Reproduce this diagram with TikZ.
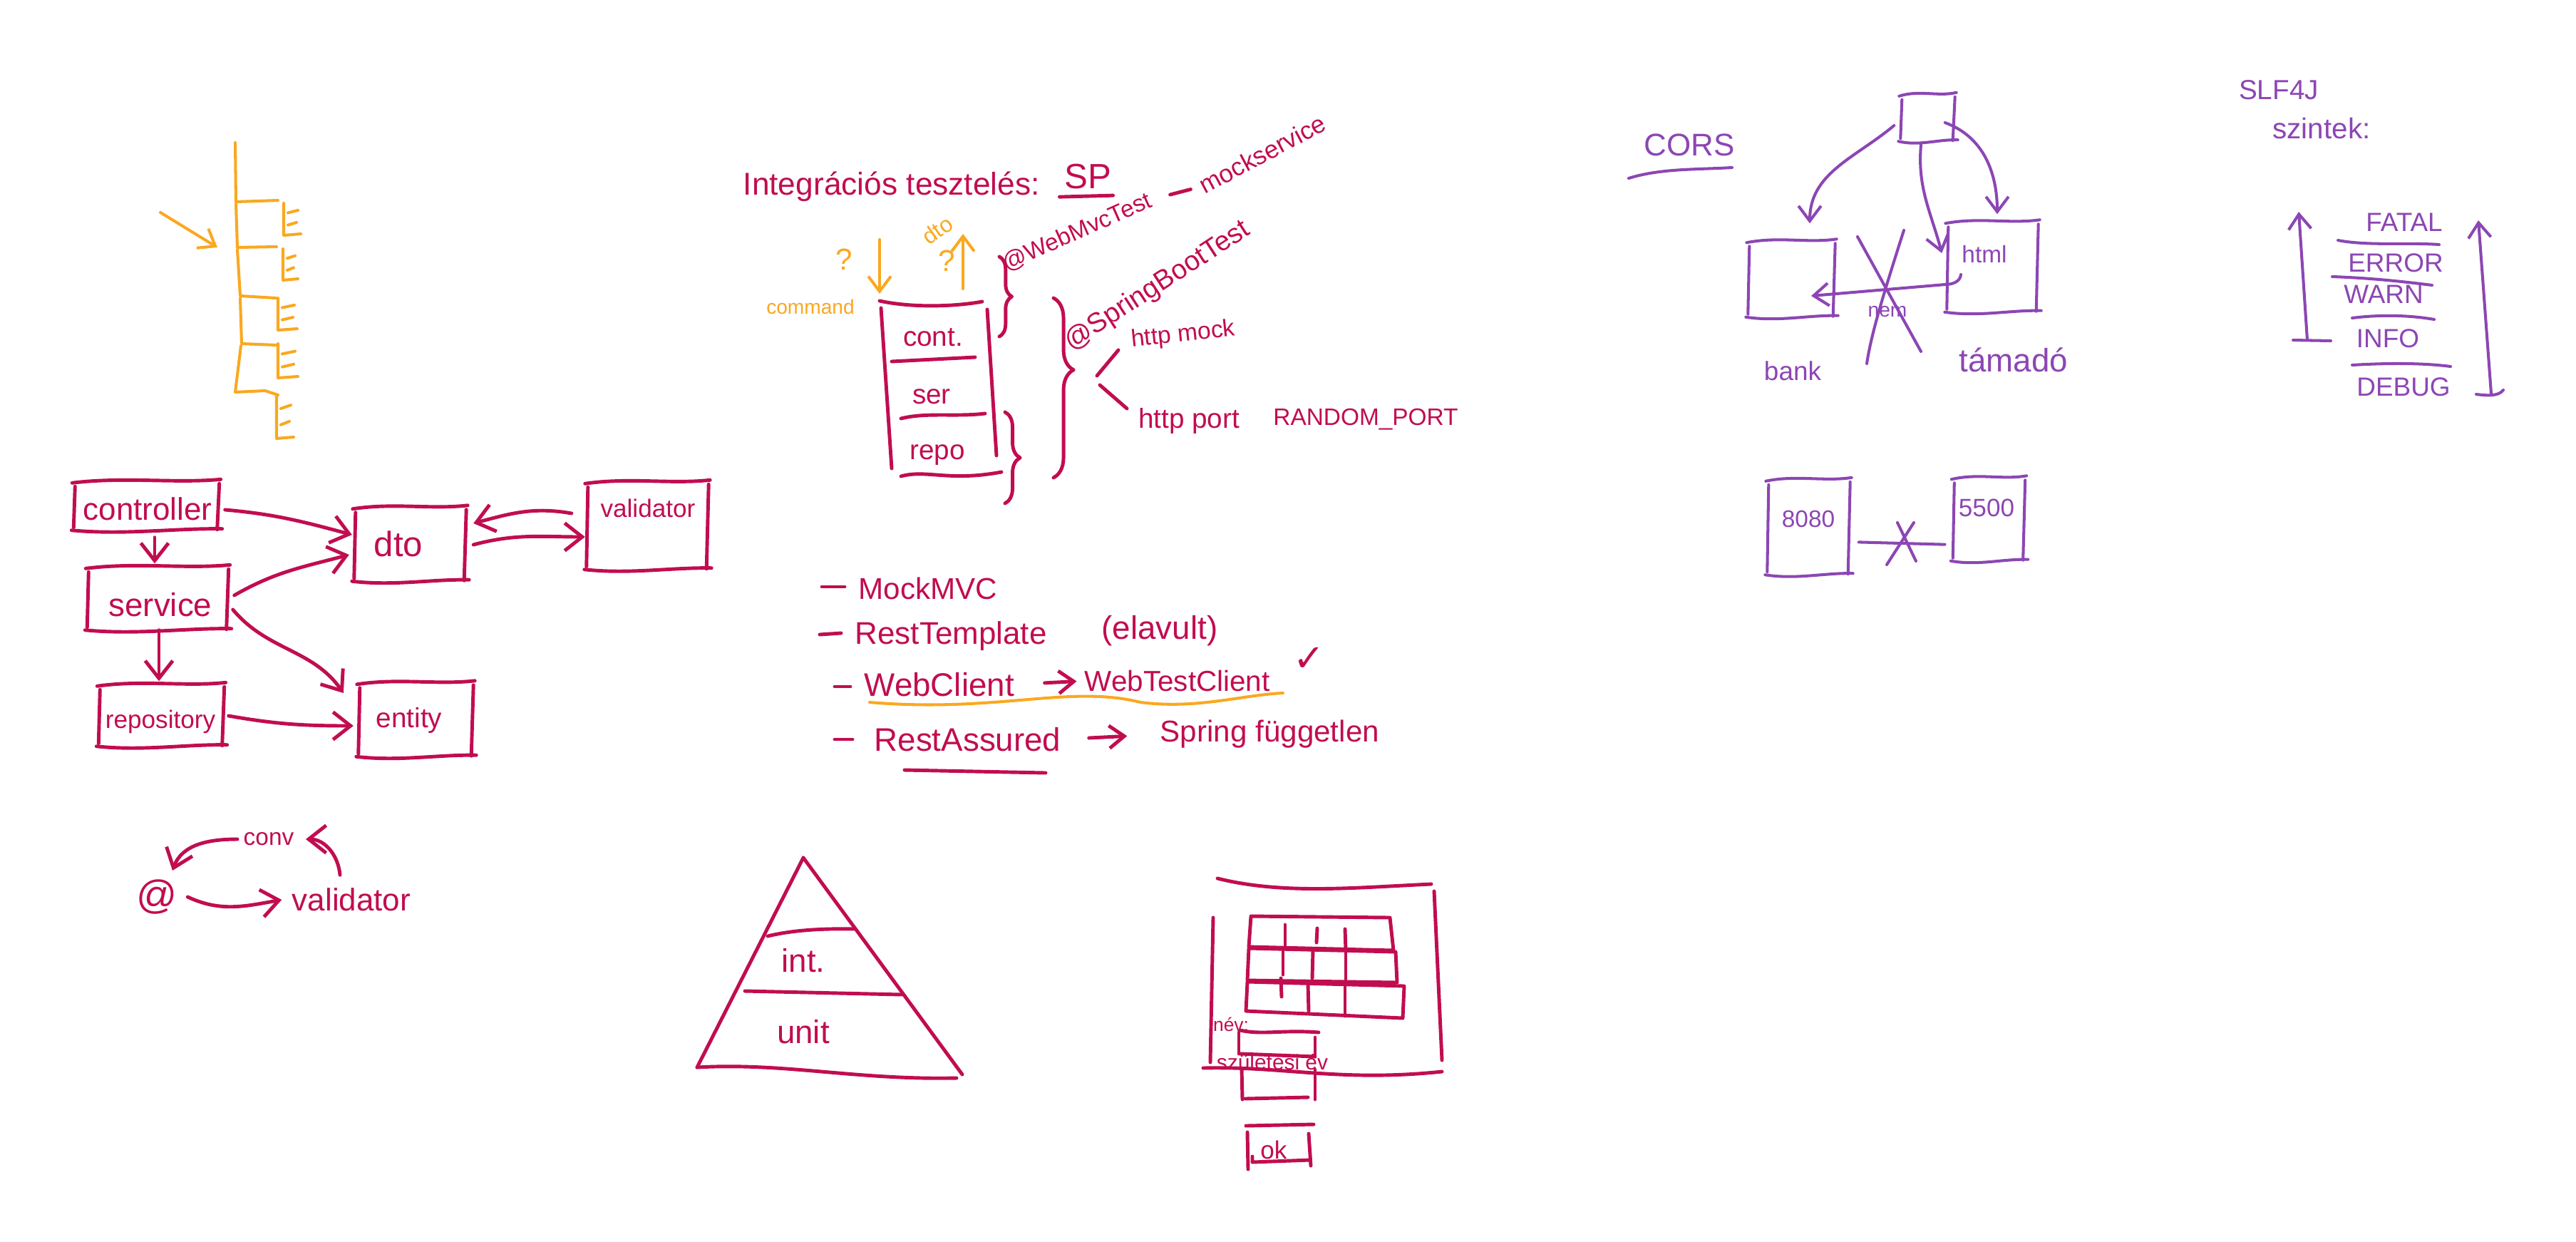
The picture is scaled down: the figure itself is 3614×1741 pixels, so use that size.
\documentclass[tikz,border=0pt]{standalone}
\usepackage{fontspec}
\setmainfont{Liberation Sans}
\newfontfamily\symf{DejaVu Sans}
\usetikzlibrary{arrows.meta,calc,decorations.pathreplacing}
\definecolor{ink}{RGB}{193,13,80}
\definecolor{amber}{RGB}{250,168,32}
\definecolor{violet}{RGB}{140,70,180}
\tikzset{
  hw/.style={font=\fontsize{#1}{#1}\selectfont, inner sep=0pt},
  pen/.style={line width=1.4pt, line cap=round, line join=round},
  inkpen/.style={pen, draw=ink},
  vpen/.style={pen, draw=violet, line width=1.15pt},
  opn/.style={pen, draw=amber, line width=1.15pt},
  tipa/.style={-{Straight Barb[length=7pt,width=11pt]}},
  tipb/.style={-{Straight Barb[length=6pt,width=9pt]}},
  arr/.style={inkpen, tipa},
  parr/.style={vpen, tipb},
  oarr/.style={opn, tipb},
  boxn/.style 2 args={minimum width=#1*0.01cm, minimum height=#2*0.01cm, inner sep=0pt, draw=none},
}
\newcommand{\skbox}[2]{%
  \draw[#1] ($(#2.north west)+(-3,3)$) .. controls ($(#2.north west)!0.35!(#2.north east)+(0,-6)$) and ($(#2.north west)!0.7!(#2.north east)+(0,4)$) .. ($(#2.north east)+(4,-2)$);
  \draw[#1] ($(#2.north west)+(1,8)$) -- ($(#2.south west)+(-1,-6)$);
  \draw[#1] ($(#2.north east)+(2,4)$) -- ($(#2.south east)+(-1,-3)$);
  \draw[#1] ($(#2.south west)+(-4,-2)$) .. controls ($(#2.south west)!0.35!(#2.south east)+(0,5)$) and ($(#2.south west)!0.7!(#2.south east)+(0,-5)$) .. ($(#2.south east)+(6,-4)$);
}
\newcommand{\ebr}[4]{%
  \draw[opn] (#1,#2) -- (#1,#3) -- (#4,#3-2);
  \draw[opn] (#1+6,{#2+0.3*(#3-#2)}) -- (#4-4,{#2+0.22*(#3-#2)});
  \draw[opn] (#1+6,{#2+0.68*(#3-#2)}) -- (#4-6,{#2+0.6*(#3-#2)});
}
\begin{document}
\begin{tikzpicture}[x=0.01cm, y=-0.01cm]
\fill[white] (0,0) rectangle (3614,1741);
\useasboundingbox (0,0) rectangle (3614,1741);

% ---------- orange ladder ----------
\draw[opn] (330,200) -- (331,283) -- (390,281);
\draw[opn] (331,286) -- (333,347) -- (388,346);
\draw[opn] (333,350) -- (337,415) -- (387,418);
\draw[opn] (337,418) -- (339,482) -- (388,484);
\draw[opn] (338,485) -- (330,550) -- (372,548) -- (390,554);
\ebr{398}{285}{330}{422}
\ebr{397}{349}{393}{418}
\ebr{390}{418}{463}{417}
\ebr{390}{482}{530}{418}
\ebr{388}{555}{615}{412}
\coordinate (la1) at (225,298);
\coordinate (la2) at (305,347);
\draw[oarr] (la1) -- (la2);

% ---------- layered architecture ----------
\node[boxn={200}{70}] (ctrl) at (205,710) {};
\node[boxn={194}{90}] (serv) at (221,840) {};
\node[boxn={172}{88}] (repo) at (226,1004) {};
\node[boxn={153}{105}] (dto) at (575,764) {};
\node[boxn={167}{124}] (valid) at (908,738) {};
\node[boxn={157}{105}] (entity) at (583,1010) {};
\skbox{inkpen}{ctrl}
\skbox{inkpen}{serv}
\skbox{inkpen}{repo}
\skbox{inkpen}{dto}
\skbox{inkpen}{valid}
\skbox{inkpen}{entity}
\node[hw=12.5,text=ink] (tctrl) at (207,714) {controller};
\node[hw=13,text=ink] (tserv) at (225,848) {service};
\node[hw=10,text=ink] (trepo) at (225,1012) {repository};
\node[hw=14,text=ink] (tdto) at (559,763) {dto};
\node[hw=10,text=ink] (tvalid) at (909,713) {validator};
\node[hw=11,text=ink] (tentity) at (574,1010) {entity};
\draw[arr] ($(ctrl.east)+(10,5)$) to[out=-5,in=165] ($(dto.west)+(-4,-14)$);
\draw[arr] ($(ctrl.south)+(12,8)$) -- ($(serv.north)+(-4,-4)$);
\draw[arr] ($(serv.east)+(10,-5)$) to[out=30,in=195] ($(dto.west)+(-8,14)$);
\draw[arr] ($(serv.east)+(8,15)$) to[out=-50,in=125] ($(entity.west)+(-22,-38)$);
\draw[arr] ($(serv.south)+(2,-2)$) -- ($(repo.north)+(-3,-4)$);
\draw[arr] ($(repo.east)+(8,0)$) to[out=-10,in=180] ($(entity.west)+(-8,8)$);
\draw[arr] ($(dto.east)+(12,0)$) to[out=15,in=180] ($(valid.west)+(-3,15)$);
\draw[arr] ($(valid.west)+(-22,-18)$) to[out=170,in=15] ($(dto.east)+(12,-30)$);

% ---------- @ / conv / validator ----------
\node[hw=16,text=ink] (at) at (220,1258) {@};
\node[hw=9.5,text=ink] (conv) at (377,1177) {conv};
\node[hw=12.5,text=ink] (valb) at (493,1262) {validator};
\draw[arr] ($(conv.west)+(-8,0)$) to[out=180,in=70] ($(at.north)+(22,-12)$);
\draw[arr] ($(valb.north)+(-16,-18)$) to[out=95,in=0] ($(conv.east)+(16,0)$);
\draw[arr] ($(at.east)+(14,0)$) to[out=-25,in=190] ($(valb.west)+(-14,0)$);

% ---------- integration testing ----------
\node[hw=12.6,text=ink,anchor=west] (title) at (1042,262) {Integrációs tesztelés:};
\node[hw=14,text=ink] (sp) at (1526,248) {SP};
\draw[inkpen] ($(sp.south west)+(-6,10)$) -- ($(sp.south east)+(2,8)$);
\node[hw=8,text=amber] (cmd) at (1137,430) {command};
\node[hw=12,text=amber] (q1) at (1184,364) {?};
\node[hw=12,text=amber] (q2) at (1328,366) {?};
\node[hw=9,text=amber,rotate=35] (odto) at (1315,323) {dto};
\coordinate (dn1) at (1234,336);
\coordinate (dn2) at (1234,412);
\draw[oarr] (dn1) -- (dn2);
\coordinate (up1) at (1351,405);
\coordinate (up2) at (1351,328);
\draw[oarr] (up1) -- (up2);

\node[boxn={164}{250}] (stack) at (1316,545) {};
\draw[inkpen] (1234,422) .. controls (1280,432) and (1340,430) .. (1378,423);
\draw[inkpen] (1236,432) -- (1251,657);
\draw[inkpen] (1385,434) -- (1398,639);
\draw[inkpen] (1264,668) .. controls (1300,658) and (1330,676) .. (1405,662);
\draw[inkpen] (1251,507) -- (1368,501);
\draw[inkpen] (1264,587) .. controls (1300,578) and (1340,585) .. (1382,580);
\node[hw=11,text=ink] (tcont) at (1309,473) {cont.};
\node[hw=11,text=ink] (tser) at (1307,556) {ser};
\node[hw=11,text=ink] (trep) at (1315,638) {repo};

\draw[inkpen,decorate,decoration={brace,amplitude=5pt}] (1402,360) -- (1402,472);
\draw[inkpen,decorate,decoration={brace,amplitude=6pt}] (1410,578) -- (1410,706);
\draw[inkpen,decorate,decoration={brace,amplitude=8pt,aspect=0.4}] (1478,418) -- (1478,670);

\node[hw=9.5,text=ink,rotate=24,anchor=west] (wmt) at (1408,372) {@WebMvcTest};
\node[hw=10,text=ink,rotate=28,anchor=west] (ms) at (1684,262) {mockservice};
\draw[inkpen,shorten <=8pt,shorten >=4pt] (wmt.east) -- (ms.west);
\node[hw=11,text=ink,rotate=33,anchor=west] (sbt) at (1497,484) {@SpringBootTest};
\node[hw=9.6,text=ink,rotate=6] (hm) at (1660,470) {http mock};
\node[hw=11,text=ink] (hp) at (1668,590) {http port};
\node[hw=9.5,text=ink] (rp) at (1916,588) {RANDOM\_PORT};
\draw[inkpen] (1569,491) -- (1539,527);
\draw[inkpen] (1543,540) -- (1581,573);

% ---------- list ----------
\draw[inkpen] (1153,823) -- (1185,823);
\node[hw=12,text=ink,anchor=west] (mm) at (1204,825) {MockMVC};
\draw[inkpen] (1150,890) -- (1180,888);
\node[hw=12.5,text=ink,anchor=west] (rt) at (1199,892) {RestTemplate};
\node[hw=13,text=ink] (el) at (1627,885) {(elavult)};
\draw[inkpen] (1171,963) -- (1193,963);
\node[hw=13,text=ink,anchor=west] (wc) at (1212,960) {WebClient};
\node[hw=11.5,text=ink,anchor=west] (wtc) at (1521,955) {WebTestClient};
\draw[arr,tipb,shorten <=12pt,shorten >=3pt] (wc.east) -- (wtc.west);
\node[text=ink,inner sep=0pt,font=\symf\fontsize{15}{15}\selectfont] (chk) at (1837,925) {✓};
\draw[opn] (1220,985) .. controls (1400,1000) and (1500,960) .. (1600,985) .. controls (1680,995) and (1740,975) .. (1800,972);
\draw[inkpen] (1171,1037) -- (1196,1037);
\node[hw=13,text=ink,anchor=west] (ra) at (1226,1037) {RestAssured};
\node[hw=12,text=ink,anchor=west] (sf) at (1627,1030) {Spring független};
\draw[arr,tipb,shorten <=11pt,shorten >=13pt] (ra.east) -- (sf.west);
\draw[inkpen] (1269,1080) -- (1467,1084);

% ---------- pyramid ----------
\draw[inkpen] (1127,1203) -- (978,1497);
\draw[inkpen] (1127,1203) -- (1350,1507);
\draw[inkpen] (978,1497) .. controls (1100,1490) and (1200,1515) .. (1342,1512);
\draw[inkpen] (1077,1313) .. controls (1110,1305) and (1150,1302) .. (1198,1303);
\draw[inkpen] (1045,1390) -- (1265,1395);
\node[hw=13,text=ink] (tint) at (1127,1347) {int.};
\node[hw=13,text=ink] (tunit) at (1127,1447) {unit};

% ---------- web form ----------
\draw[inkpen] (1708,1232) .. controls (1800,1255) and (1900,1245) .. (2008,1240);
\draw[inkpen] (2012,1250) -- (2023,1487);
\draw[inkpen] (1702,1287) -- (1698,1490);
\draw[inkpen] (1688,1498) .. controls (1800,1495) and (1880,1518) .. (2023,1503);
\draw[inkpen] (1755,1285) -- (1950,1287) -- (1955,1333) -- (1752,1328) -- cycle;
\draw[inkpen] (1752,1330) -- (1958,1335) -- (1960,1378) -- (1750,1375) -- cycle;
\draw[inkpen] (1750,1377) -- (1970,1383) -- (1968,1428) -- (1748,1418) -- cycle;
\draw[inkpen] (1803,1297) -- (1803,1330);
\draw[inkpen] (1848,1302) -- (1847,1322);
\draw[inkpen] (1887,1303) -- (1888,1333);
\draw[inkpen] (1800,1332) -- (1800,1367);
\draw[inkpen] (1842,1333) -- (1841,1372);
\draw[inkpen] (1888,1333) -- (1888,1376);
\draw[inkpen] (1797,1372) -- (1798,1398);
\draw[inkpen] (1835,1380) -- (1836,1418);
\draw[inkpen] (1887,1382) -- (1887,1425);
\node[hw=7.5,text=ink] (tnev) at (1727,1437) {név:};
\draw[inkpen] (1740,1445) .. controls (1770,1452) and (1800,1444) .. (1850,1448);
\draw[inkpen] (1738,1448) -- (1738,1478);
\draw[inkpen] (1845,1455) -- (1845,1482);
\draw[inkpen] (1740,1478) -- (1845,1482);
\node[hw=8.5,text=ink] (tszul) at (1785,1490) {születési év};
\draw[inkpen] (1742,1498) -- (1743,1542);
\draw[inkpen] (1845,1500) -- (1845,1542);
\draw[inkpen] (1747,1541) -- (1835,1539);
\draw[inkpen] (1748,1579) -- (1843,1577);
\draw[inkpen] (1750,1588) -- (1751,1640);
\draw[inkpen] (1836,1590) -- (1839,1635);
\draw[inkpen] (1757,1622) -- (1757,1630) -- (1838,1627);
\node[hw=10,text=ink] (tok) at (1787,1613) {ok};

% ---------- CORS ----------
\node[hw=12.5,text=violet] (cors) at (2370,203) {CORS};
\draw[vpen] (2285,250) .. controls (2330,236) and (2380,238) .. (2430,235);
\node[boxn={72}{67}] (cb) at (2704,166) {};
\node[boxn={118}{108}] (bank) at (2513,392) {};
\node[boxn={124}{128}] (html) at (2795,375) {};
\skbox{vpen}{cb}
\skbox{vpen}{bank}
\skbox{vpen}{html}
\node[hw=9.5,text=violet] (thtml) at (2784,357) {html};
\node[hw=10.5,text=violet] (tbank) at (2515,520) {bank};
\node[hw=13,text=violet] (ttam) at (2825,505) {támadó};
\node[hw=8,text=violet] (tnem) at (2648,437) {nem};
\draw[parr] ($(cb.west)+(-10,10)$) to[out=220,in=90] ($(bank.north)+(26,-24)$);
\draw[parr] ($(cb.south)+(-9,3)$) to[out=-95,in=105] ($(html.west)+(-8,-20)$);
\draw[parr] ($(cb.east)+(-12,6)$) to[out=-20,in=90] ($(html.north)+(7,-10)$);
\draw[parr] ($(html.center)+(-44,10)$) to[out=-95,in=0] ($(html.center)+(-66,24)$) -- ($(bank.center)+(28,23)$);
\draw[vpen] (2606,332) -- (2695,493);
\draw[vpen] (2671,323) .. controls (2640,420) and (2625,470) .. (2619,510);

\node[boxn={112}{135}] (b80) at (2537,740) {};
\node[boxn={97}{118}] (b55) at (2790,729) {};
\skbox{vpen}{b80}
\skbox{vpen}{b55}
\node[hw=9.5,text=violet] (t80) at (2537,728) {8080};
\node[hw=10,text=violet] (t55) at (2787,712) {5500};
\draw[vpen,shorten <=4pt,shorten >=3.5pt] ($(b80.east)+(0,20)$) -- ($(b55.west)+(0,35)$);
\draw[vpen] (2662,733) -- (2688,787);
\draw[vpen] (2685,733) -- (2647,792);

% ---------- SLF4J ----------
\node[hw=11,text=violet] (slf) at (3197,126) {SLF4J};
\node[hw=11.5,text=violet] (szk) at (3257,180) {szintek:};
\coordinate (l1) at (3237,477);
\coordinate (l2) at (3225,297);
\draw[parr] (l1) -- (l2);
\draw[vpen] (3217,477) -- (3270,478);
\coordinate (r1) at (3495,552);
\coordinate (r2) at (3477,309);
\draw[parr] (r1) -- (r2);
\draw[vpen] (3474,553) .. controls (3490,555) and (3505,556) .. (3512,547);
\node[hw=10.5,text=violet] (lfat) at (3373,312) {FATAL};
\node[hw=10.5,text=violet] (lerr) at (3361,369) {ERROR};
\node[hw=10.5,text=violet] (lwarn) at (3344,413) {WARN};
\node[hw=10.5,text=violet] (linfo) at (3350,475) {INFO};
\node[hw=10.5,text=violet] (ldbg) at (3372,543) {DEBUG};
\draw[vpen] (3280,337) .. controls (3320,345) and (3380,340) .. (3422,343);
\draw[vpen] (3272,388) .. controls (3330,390) and (3380,396) .. (3412,400);
\draw[vpen] (3300,446) .. controls (3340,441) and (3380,442) .. (3415,448);
\draw[vpen] (3300,512) .. controls (3350,509) and (3400,509) .. (3438,514);
\end{tikzpicture}
\end{document}
